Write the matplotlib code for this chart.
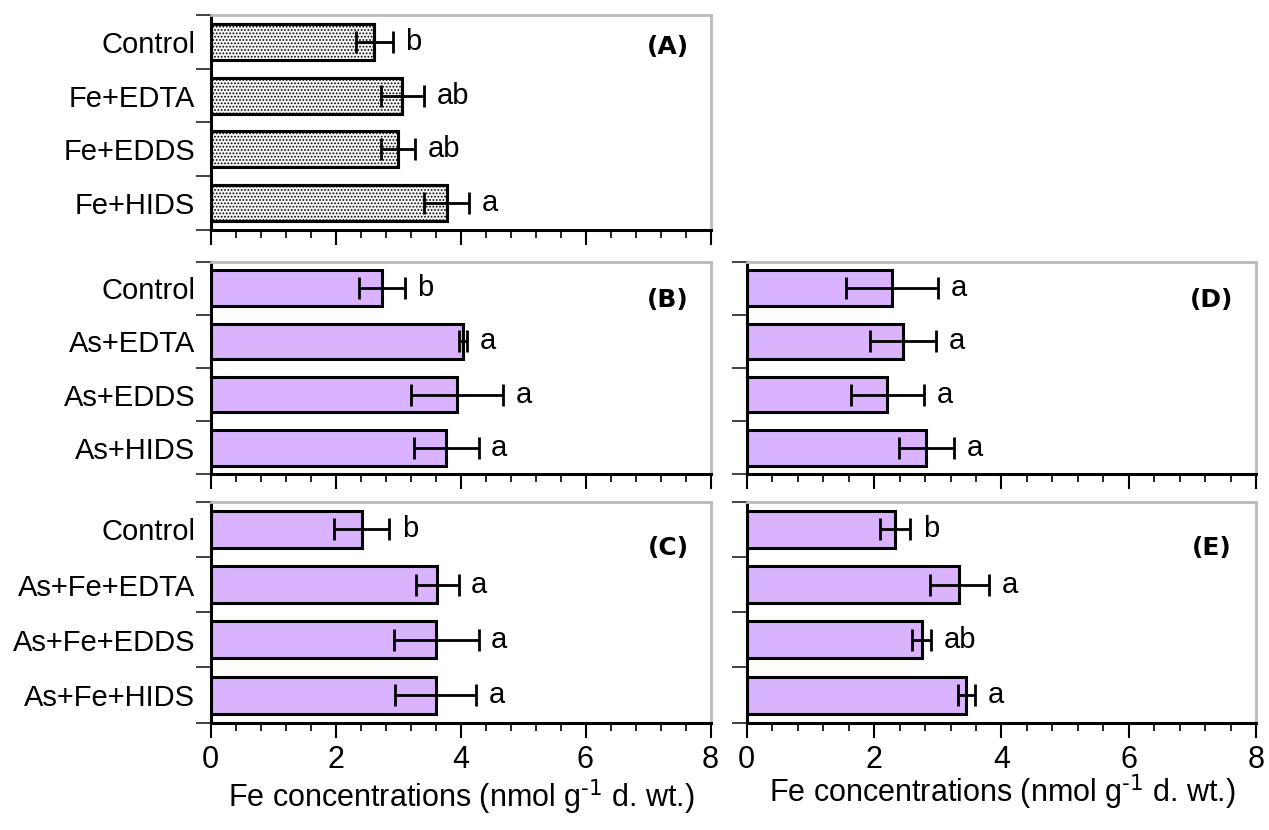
import matplotlib
matplotlib.use("Agg")
import matplotlib.pyplot as plt
import numpy as np
from matplotlib.ticker import MultipleLocator, FixedLocator

plt.rcParams['font.family'] = ['Liberation Sans', 'DejaVu Sans']
plt.rcParams['mathtext.default'] = 'regular'
plt.rcParams['hatch.color'] = '#777777'
plt.rcParams['hatch.linewidth'] = 0.8

# ---- data ----
cats_A = ["Control", "Fe+EDTA", "Fe+EDDS", "Fe+HIDS"]
vals_A = [2.62, 3.07, 3.00, 3.78]
errs_A = [0.30, 0.35, 0.27, 0.36]
sig_A = ["b", "ab", "ab", "a"]

cats_B = ["Control", "As+EDTA", "As+EDDS", "As+HIDS"]
vals_B = [2.74, 4.04, 3.94, 3.77]
errs_B = [0.37, 0.07, 0.74, 0.52]
sig_B = ["b", "a", "a", "a"]

cats_C = ["Control", "As+Fe+EDTA", "As+Fe+EDDS", "As+Fe+HIDS"]
vals_C = [2.42, 3.63, 3.61, 3.60]
errs_C = [0.44, 0.34, 0.68, 0.65]
sig_C = ["b", "a", "a", "a"]

vals_D = [2.28, 2.46, 2.21, 2.82]
errs_D = [0.72, 0.52, 0.58, 0.43]
sig_D = ["a", "a", "a", "a"]

vals_E = [2.33, 3.34, 2.75, 3.45]
errs_E = [0.24, 0.46, 0.15, 0.13]
sig_E = ["b", "a", "ab", "a"]

xticks = [0, 2, 4, 6, 8]
xlabel = "Fe concentrations (nmol g$^{\\text{-1}}$ d. wt.)"

W, H = 1269, 830
fig = plt.figure(figsize=(W / 100, H / 100), dpi=100)

def rect(x0, x1, ytop, ybot):
    return [x0 / W, 1 - ybot / H, (x1 - x0) / W, (ybot - ytop) / H]

purple = '#D9B3FE'

def panel(pos, cats, vals, errs, sig, label, label_xy, hatched=False,
          ylabels=True, xlabels=True):
    ax = fig.add_axes(pos)
    y = np.arange(len(vals))
    if hatched:
        ax.barh(y, vals, height=0.67, facecolor='#F4F4F4', edgecolor='black',
                linewidth=2.2, hatch='.....', zorder=2)
        ax.barh(y, vals, height=0.67, facecolor='none', edgecolor='black',
                linewidth=2.2, zorder=3)
    else:
        ax.barh(y, vals, height=0.67, color=purple, edgecolor='black',
                linewidth=2.2, zorder=2)
    ax.errorbar(vals, y, xerr=errs, fmt='none', ecolor='black', elinewidth=2.0,
                capsize=8, capthick=2.0, zorder=4)
    for yi, v, e, s in zip(y, vals, errs, sig):
        ax.text(v + e + 0.2, yi, s, ha='left', va='center', fontsize=21)
    ax.set_xlim(0, 8)
    ax.set_ylim(len(vals) - 0.5, -0.5)
    ax.xaxis.set_major_locator(FixedLocator(xticks))
    ax.xaxis.set_minor_locator(MultipleLocator(0.4))
    ax.tick_params(axis='x', which='major', length=11, width=1.5, direction='out',
                   labelsize=22, pad=5)
    ax.tick_params(axis='x', which='minor', length=6, width=1.2, direction='out')
    if not xlabels:
        ax.tick_params(axis='x', which='both', labelbottom=False)
    ax.yaxis.set_major_locator(FixedLocator(np.arange(-0.5, len(vals), 1.0)))
    ax.yaxis.set_minor_locator(FixedLocator(y))
    ax.tick_params(axis='y', which='major', length=11, width=1.3, color='#333333',
                   labelleft=False)
    ax.tick_params(axis='y', which='minor', length=0, pad=11, labelsize=21)
    if ylabels:
        ax.set_yticks(y, cats, minor=True)
    else:
        ax.tick_params(axis='y', which='minor', labelleft=False)
    for s in ['left', 'bottom']:
        ax.spines[s].set_linewidth(2.2)
        ax.spines[s].set_color('black')
    for s in ['top', 'right']:
        ax.spines[s].set_linewidth(2.0)
        ax.spines[s].set_color('#BBBBBB')
    ax.text(label_xy[0], label_xy[1], label, transform=ax.transAxes,
            ha='center', va='center', fontsize=18, fontweight='bold',
            family='DejaVu Sans')
    return ax

Lx0, Lx1 = 210.5, 710.5
Rx0, Rx1 = 746.7, 1256.2
A_top, A_bot = 15, 230
B_top, B_bot = 261.7, 474.3
C_top, C_bot = 501.7, 722.7

panel(rect(Lx0, Lx1, A_top, A_bot), cats_A, vals_A, errs_A, sig_A, "(A)",
      (0.915, 0.85), hatched=True, xlabels=False)
panel(rect(Lx0, Lx1, B_top, B_bot), cats_B, vals_B, errs_B, sig_B, "(B)",
      (0.915, 0.82), xlabels=False)
panel(rect(Lx0, Lx1, C_top, C_bot), cats_C, vals_C, errs_C, sig_C, "(C)",
      (0.915, 0.79))
panel(rect(Rx0, Rx1, B_top, B_bot), cats_B, vals_D, errs_D, sig_D, "(D)",
      (0.913, 0.82), ylabels=False, xlabels=False)
panel(rect(Rx0, Rx1, C_top, C_bot), cats_C, vals_E, errs_E, sig_E, "(E)",
      (0.913, 0.79), ylabels=False)

fig.text(461 / W, 1 - 797 / H, xlabel, ha='center', va='center', fontsize=22)
fig.text(1002 / W, 1 - 792 / H, xlabel, ha='center', va='center', fontsize=22)

fig.savefig("out.png", dpi=100)
